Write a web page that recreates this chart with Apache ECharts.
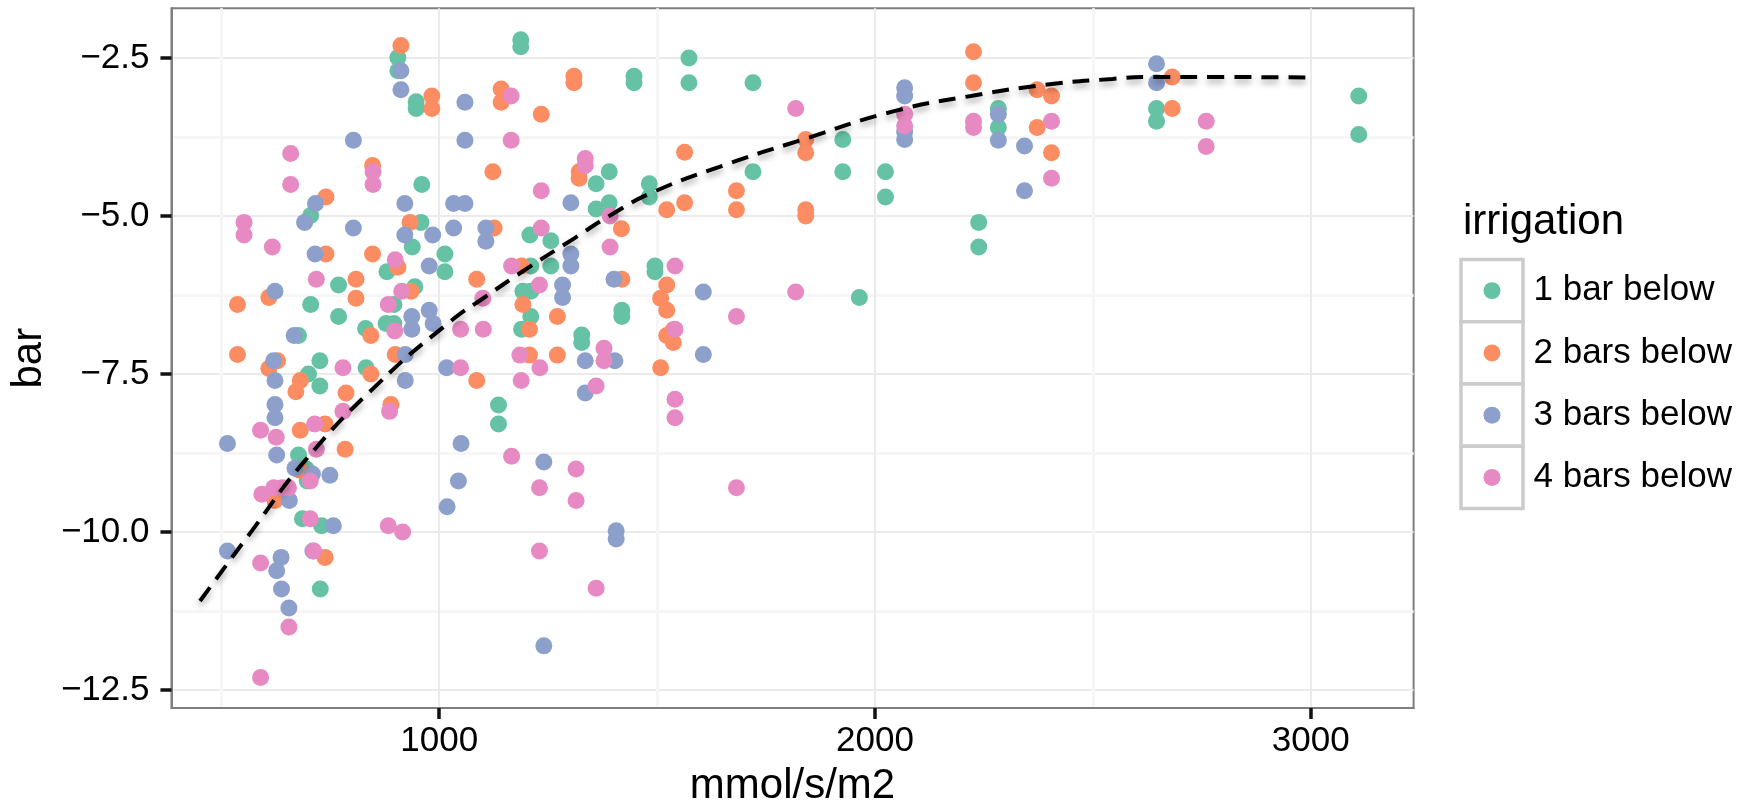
<!DOCTYPE html>
<html>
<head>
<meta charset="utf-8">
<title>irrigation scatter</title>
<script src="https://cdn.jsdelivr.net/npm/echarts@6/dist/echarts.min.js"></script>
<style>
  html, body { margin: 0; padding: 0; background: #fff; }
  #chart { width: 1754px; height: 812px; }
</style>
</head>
<body>
<div id="chart"></div>
<script>
// ---- data: [flux (mmol/s/m2), water potential (bar)] per irrigation group ----
const seriesNames = ['1 bar below', '2 bars below', '3 bars below', '4 bars below'];

const bar1Below = [
  [1187,-2.21],[1187,-2.32],[905,-2.49],[905,-2.70],[947,-3.19],[947,-3.30],[1447,-2.79],[1447,-2.89],
  [1573,-2.50],[1573,-2.89],[1720,-2.89],[2283,-3.30],[2283,-3.60],[2646,-3.30],[2646,-3.50],[3110,-3.10],
  [3110,-3.71],[960,-4.50],[1390,-4.30],[1360,-4.49],[1482,-4.49],[1482,-4.70],[1720,-4.30],[1926,-3.79],
  [1926,-4.30],[2024,-4.30],[2024,-4.70],[1360,-4.89],[1390,-4.79],[2238,-5.10],[2238,-5.49],[705,-4.99],
  [958,-5.10],[938,-5.49],[1208,-5.30],[1256,-5.39],[1013,-5.60],[1013,-5.88],[880,-5.88],[1210,-5.79],
  [1256,-5.79],[1495,-5.79],[1495,-5.88],[769,-6.09],[944,-6.12],[705,-6.40],[896,-6.40],[1192,-6.19],
  [1210,-6.19],[769,-6.59],[878,-6.70],[896,-6.70],[1210,-6.59],[1419,-6.49],[1419,-6.59],[831,-6.78],
  [1189,-6.79],[1327,-6.88],[1327,-7.00],[1964,-6.29],[677,-6.89],[726,-7.29],[700,-7.50],[832,-7.40],
  [726,-7.69],[1136,-7.99],[1136,-8.29],[677,-8.78],[695,-9.00],[697,-9.19],[686,-9.79],[730,-9.90],
  [727,-10.90]
];

const bars2Below = [
  [912,-2.30],[983,-3.10],[983,-3.30],[1142,-2.99],[1142,-3.20],[1234,-3.39],[1309,-2.79],[1309,-2.89],
  [2226,-2.40],[2226,-2.89],[2372,-3.00],[2405,-3.10],[2372,-3.60],[2405,-4.00],[2682,-2.80],[2682,-3.30],
  [1563,-3.99],[1841,-3.79],[1841,-4.00],[847,-4.20],[1123,-4.30],[1321,-4.30],[1321,-4.40],[740,-4.70],
  [933,-5.10],[1126,-5.19],[1418,-5.20],[1522,-4.90],[1563,-4.79],[1682,-4.60],[1682,-4.90],[1841,-4.90],
  [1841,-5.00],[740,-5.60],[847,-5.60],[905,-5.81],[1189,-5.79],[809,-6.00],[1086,-6.00],[1419,-6.00],
  [935,-6.19],[609,-6.29],[537,-6.40],[809,-6.30],[1522,-6.09],[1508,-6.30],[1522,-6.49],[1192,-6.40],
  [1271,-6.59],[843,-6.89],[1207,-6.79],[1522,-6.89],[1537,-6.80],[1537,-7.00],[537,-7.19],[899,-7.19],
  [629,-7.29],[609,-7.41],[1207,-7.20],[1271,-7.20],[681,-7.60],[671,-7.78],[843,-7.50],[786,-7.80],
  [1508,-7.40],[1086,-7.60],[889,-7.98],[681,-8.39],[738,-8.29],[784,-8.69],[680,-9.02],[623,-9.50],
  [738,-10.40]
];

const bars3Below = [
  [912,-2.70],[912,-3.00],[1059,-3.20],[2068,-2.97],[2068,-3.10],[2068,-3.67],[2068,-3.79],[2283,-3.39],
  [2283,-3.80],[2343,-3.89],[2343,-4.60],[2646,-2.59],[2646,-2.89],[803,-3.80],[1059,-3.80],[716,-4.80],
  [691,-5.10],[921,-4.80],[1033,-4.80],[1059,-4.80],[1302,-4.79],[803,-5.19],[921,-5.30],[985,-5.30],
  [1033,-5.19],[1107,-5.19],[1107,-5.40],[715,-5.60],[1302,-5.60],[1302,-5.79],[977,-5.79],[1401,-6.00],
  [1283,-6.09],[1283,-6.29],[1606,-6.20],[623,-6.19],[937,-6.59],[937,-6.79],[977,-6.49],[986,-6.70],
  [667,-6.89],[922,-7.19],[620,-7.29],[623,-7.60],[922,-7.60],[1017,-7.40],[1335,-7.29],[1403,-7.29],
  [1606,-7.19],[1335,-7.80],[623,-7.98],[623,-8.19],[514,-8.60],[1050,-8.60],[627,-8.78],[669,-8.99],
  [709,-9.08],[749,-9.10],[656,-9.50],[757,-9.90],[1044,-9.19],[1240,-8.89],[1018,-9.60],[1406,-9.98],
  [1406,-10.11],[514,-10.30],[637,-10.40],[627,-10.61],[710,-10.30],[638,-10.90],[655,-11.20],[1240,-11.80]
];

const bars4Below = [
  [1165,-3.10],[1165,-3.80],[1818,-3.30],[2068,-3.39],[2068,-3.57],[2226,-3.50],[2226,-3.60],[2405,-3.50],
  [2405,-4.40],[2760,-3.50],[2760,-3.90],[659,-4.01],[659,-4.50],[848,-4.30],[848,-4.50],[1335,-4.09],
  [1335,-4.20],[1234,-4.60],[552,-5.10],[552,-5.30],[1392,-5.00],[1234,-5.19],[617,-5.49],[1392,-5.49],
  [899,-5.69],[1166,-5.79],[1541,-5.79],[718,-6.00],[914,-6.19],[1230,-6.09],[883,-6.40],[1100,-6.30],
  [898,-6.82],[1049,-6.79],[1101,-6.79],[1541,-6.79],[1682,-6.59],[1818,-6.20],[1378,-7.09],[1378,-7.29],
  [1185,-7.20],[779,-7.40],[1049,-7.40],[1231,-7.40],[1188,-7.60],[1360,-7.69],[1541,-7.90],[1541,-8.19],
  [779,-8.09],[886,-8.09],[590,-8.39],[626,-8.50],[714,-8.29],[718,-8.69],[1166,-8.80],[1314,-9.00],
  [1230,-9.30],[1314,-9.50],[1682,-9.30],[593,-9.40],[620,-9.30],[639,-9.30],[654,-9.30],[704,-9.19],
  [704,-9.79],[883,-9.90],[916,-10.00],[590,-10.49],[712,-10.30],[655,-11.50],[590,-12.30],[1230,-10.30],
  [1360,-10.89]
];

// fitted trend (dashed curve)
const fitCurve = [
  [451,-11.09],[570,-9.98],[692,-8.87],[857,-7.67],[1025,-6.67],[1101,-6.30],[1208,-5.80],[1308,-5.36],
  [1392,-4.99],[1491,-4.62],[1660,-4.18],[1834,-3.79],[2044,-3.34],[2220,-3.10],[2396,-2.92],[2545,-2.83],
  [2624,-2.80],[2803,-2.80],[3000,-2.81]
];

// axis ticks
const xTicks = [1000, 2000, 3000];
const xMinorTicks = [500, 1500, 2500];
const yTicks = [-12.5, -10, -7.5, -5, -2.5];
const yMinorTicks = [-11.25, -8.75, -6.25, -3.75];

const groupColors = ['#66C2A5', '#FC8D62', '#8DA0CB', '#E78AC3'];
const FONT = 'Liberation Sans, Arial, Helvetica, sans-serif';
const TICK_FONT = 35;
const TITLE_FONT = 42;

const X_RANGE = [385.5, 3235.9];
const Y_RANGE = [-12.783, -1.713];

const fmtX = v => String(v);
const fmtY = v => v.toFixed(1).replace('-', '\u2212');

const chart = echarts.init(document.getElementById('chart'), null, { renderer: 'canvas' });

const groups = [bar1Below, bars2Below, bars3Below, bars4Below];

const scatterSeries = groups.map((pts, i) => ({
  name: seriesNames[i],
  type: 'scatter',
  data: pts,
  symbol: 'circle',
  symbolSize: 17,
  itemStyle: { color: groupColors[i], opacity: 1 },
  emphasis: { disabled: true },
  z: 2
}));

const minorSplit = { show: true, lineStyle: { color: '#F6F6F6', width: 3 } };
const majorSplit = { show: true, lineStyle: { color: '#EBEBEB', width: 2 } };

// legend key boxes
const keyBoxes = [0, 1, 2, 3].map(i => ({
  type: 'rect',
  shape: { x: 1461, y: 259.5 + i * 62.25, width: 62, height: 62.25 },
  style: { fill: '#fff', stroke: '#CCCCCC', lineWidth: 3.5 },
  z: 0
}));

chart.setOption({
  animation: false,
  backgroundColor: '#fff',
  grid: {
    left: 171.4, right: 340.4, top: 8.3, bottom: 100.3,
    show: true, borderColor: '#7F7F7F', borderWidth: 2, backgroundColor: '#fff'
  },
  xAxis: [
    {
      type: 'value', min: X_RANGE[0], max: X_RANGE[1],
      name: 'mmol/s/m2', nameLocation: 'middle', nameGap: 57,
      nameTextStyle: { fontSize: TITLE_FONT, color: '#000', fontFamily: FONT },
      axisLine: { show: true, lineStyle: { color: '#7F7F7F', width: 2 } },
      axisTick: { show: true, customValues: xTicks, length: 11, lineStyle: { color: '#111', width: 3.5 } },
      axisLabel: { customValues: xTicks, margin: 16, fontSize: TICK_FONT, color: '#000', fontFamily: FONT, formatter: fmtX },
      splitLine: majorSplit
    },
    {
      type: 'value', min: X_RANGE[0], max: X_RANGE[1], position: 'bottom',
      axisLine: { show: false },
      axisTick: { show: false, customValues: xMinorTicks },
      axisLabel: { show: false, customValues: xMinorTicks },
      splitLine: minorSplit
    }
  ],
  yAxis: [
    {
      type: 'value', min: Y_RANGE[0], max: Y_RANGE[1],
      name: 'bar', nameLocation: 'middle', nameGap: 118,
      nameTextStyle: { fontSize: TITLE_FONT, color: '#000', fontFamily: FONT },
      axisLine: { show: true, lineStyle: { color: '#7F7F7F', width: 2 } },
      axisTick: { show: true, customValues: yTicks, length: 11, lineStyle: { color: '#111', width: 3.5 } },
      axisLabel: { customValues: yTicks, margin: 22, fontSize: TICK_FONT, color: '#000', fontFamily: FONT, formatter: fmtY },
      splitLine: majorSplit
    },
    {
      type: 'value', min: Y_RANGE[0], max: Y_RANGE[1], position: 'left',
      axisLine: { show: false },
      axisTick: { show: false, customValues: yMinorTicks },
      axisLabel: { show: false, customValues: yMinorTicks },
      splitLine: minorSplit
    }
  ],
  legend: {
    data: seriesNames,
    orient: 'vertical',
    left: 1483.5, top: 259.5,
    padding: 0,
    itemGap: 0,
    itemWidth: 17, itemHeight: 17,
    icon: 'circle',
    selectedMode: false,
    textStyle: { fontSize: TICK_FONT, color: '#000', fontFamily: FONT, lineHeight: 62.25, padding: [0, 0, 0, 28] }
  },
  graphic: [
    ...keyBoxes,
    {
      type: 'text', left: 1463, top: 201,
      style: { text: 'irrigation', fontSize: TITLE_FONT, fill: '#000', fontFamily: FONT },
      z: 5
    }
  ],
  series: [
    ...scatterSeries,
    {
      name: 'fit',
      type: 'line',
      data: fitCurve,
      smooth: 0.5,
      showSymbol: false,
      symbol: 'none',
      silent: true,
      lineStyle: {
        color: '#000', width: 4, type: [17, 10],
        shadowColor: 'rgba(0,0,0,0.35)', shadowBlur: 6, shadowOffsetY: 4
      },
      z: 5
    }
  ]
});
</script>
</body>
</html>
